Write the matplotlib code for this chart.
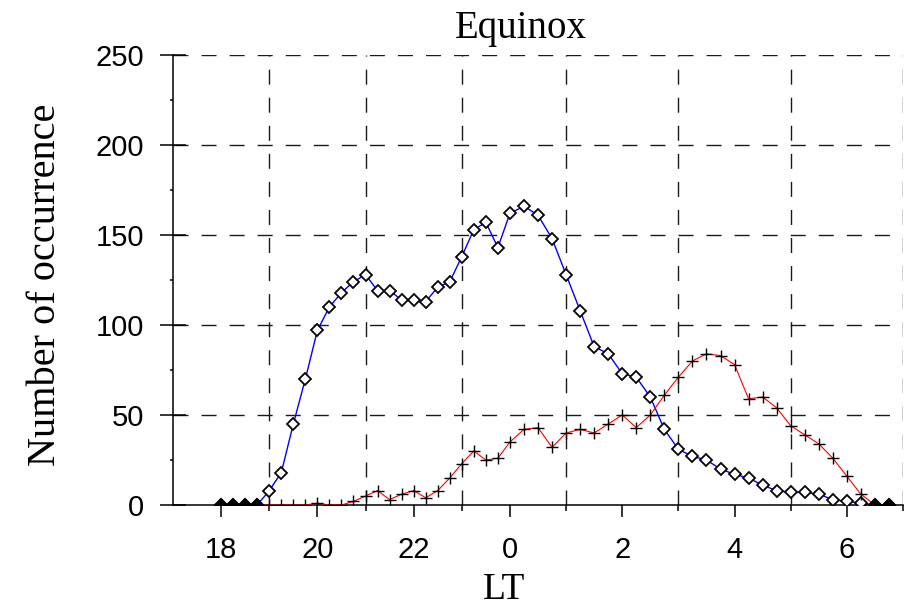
import numpy as np
import matplotlib
matplotlib.use("Agg")
import matplotlib.pyplot as plt
from matplotlib.ticker import FixedLocator, FixedFormatter, MultipleLocator

# Local time of each bin (hours, evening then after midnight)
lt_hours = [18.0, 18.25, 18.5, 18.75, 19.0, 19.25, 19.5, 19.75,
            20.0, 20.25, 20.5, 20.75, 21.0, 21.25, 21.5, 21.75,
            22.0, 22.25, 22.5, 22.75, 23.0, 23.25, 23.5, 23.75,
            0.0, 0.25, 0.5, 0.75, 1.0, 1.25, 1.5, 1.75,
            2.0, 2.25, 2.5, 2.75, 3.0, 3.25, 3.5, 3.75,
            4.0, 4.25, 4.5, 4.75, 5.0, 5.25, 5.5, 5.75,
            6.0, 6.25, 6.5, 6.75]

# Occurrence counts, first series (blue, diamonds)
count_blue = [0, 0, 0, 0, 8, 18, 45, 70,
              97, 110, 118, 124, 128, 119, 119, 114,
              114, 113, 121, 124, 138, 153, 157, 143,
              162, 166, 161, 148, 128, 108, 88, 84,
              73, 71, 60, 42, 31, 27, 25, 20,
              17, 15, 11, 8, 7, 7, 6, 3,
              2, 1, 0, 0]

# Occurrence counts, second series (red, plus signs)
count_red = [0, 0, 0, 0, 0, 0, 0, 0,
             1, 0, 0, 2, 5, 8, 3, 6,
             8, 4, 8, 15, 23, 30, 25, 26,
             35, 42, 43, 32, 40, 42, 40, 45,
             50, 43, 50, 61, 71, 80, 84, 83,
             78, 59, 60, 54, 44, 39, 34, 26,
             16, 6, 0, 0]

tick_hours = [18, 20, 22, 24, 26, 28, 30]
tick_labels = ["18", "20", "22", "0", "2", "4", "6"]
grid_hours = [19, 21, 23, 25, 27, 29, 31]

title_text = "Equinox"
xlabel_text = "LT"
ylabel_text = "Number of occurrence"

# Continuous hour axis across midnight
x = np.array([h + 24 if h < 12 else h for h in lt_hours])
yb = np.array(count_blue, dtype=float)
yr = np.array(count_red, dtype=float)


# Evening hours are drawn slightly narrower than post-midnight hours
def fwd(v):
    v = np.asarray(v, dtype=float)
    return np.where(v < 24, (v - 24) * 6.0, (v - 24) * 7.0)


def inv(u):
    u = np.asarray(u, dtype=float)
    return np.where(u < 0, u / 6.0 + 24, u / 7.0 + 24)


fig = plt.figure(figsize=(9.05, 6.07), dpi=100)
ax = fig.add_axes([173 / 905, 1 - 505 / 607, 730 / 905, 450 / 607])
ax.set_xscale("function", functions=(fwd, inv))
ax.set_xlim(17, 31)
ax.set_ylim(0, 250)

# Dashed grid
dash = (0, (10.8, 9.4))
for g in grid_hours:
    ax.axvline(g, color="#1a1a1a", lw=1.0, ls=dash, zorder=1)
for g in [50, 100, 150, 200, 250]:
    ax.axhline(g, color="#1a1a1a", lw=1.0, ls=dash, zorder=1)

# Series
ax.plot(x, yb, color="#0000ff", lw=1.0, zorder=3)
ax.plot(x, yr, color="#ff0000", lw=0.8, zorder=3)
ax.plot(x, yb, ls="none", marker="D", ms=6.2, mfc="white", mec="black",
        mew=1.3, zorder=4)
ax.plot(x, yr, ls="none", marker="+", ms=8, mec="black", mew=1.0, zorder=5)
both_zero = (yb == 0) & (yr == 0)
ax.plot(x[both_zero], yb[both_zero], ls="none", marker="D", ms=6.2,
        mfc="black", mec="black", mew=1.3, zorder=6)

# Axes frame
for s in ["top", "right"]:
    ax.spines[s].set_visible(False)
for s in ["left", "bottom"]:
    ax.spines[s].set_linewidth(1.1)
    ax.spines[s].set_zorder(2)

ax.xaxis.set_major_locator(FixedLocator(tick_hours))
ax.xaxis.set_major_formatter(FixedFormatter(tick_labels))
ax.xaxis.set_minor_locator(FixedLocator(grid_hours))
ax.yaxis.set_major_locator(MultipleLocator(50))
ax.yaxis.set_minor_locator(MultipleLocator(25))

ax.tick_params(axis="x", which="major", direction="out", length=8.6,
               width=1.1, pad=14, labelsize=21)
ax.tick_params(axis="x", which="minor", direction="out", length=4.5,
               width=1.1)
ax.tick_params(axis="y", which="major", direction="inout", length=19.4,
               width=1.1, pad=11, labelsize=21)
ax.tick_params(axis="y", which="minor", direction="out", length=2.2,
               width=1.1)
for lab in ax.get_xticklabels() + ax.get_yticklabels():
    lab.set_fontfamily("Liberation Sans")

ax.set_title(title_text, fontfamily="Liberation Serif", fontsize=28,
             x=0.477, pad=12)
ax.set_xlabel(xlabel_text, fontfamily="Liberation Serif", fontsize=27)
ax.xaxis.set_label_coords(0.4534, -0.149)
ax.set_ylabel(ylabel_text, fontfamily="Liberation Serif", fontsize=29)
ax.yaxis.set_label_coords(-0.149, 0.489)

fig.savefig("out.png", dpi=100)
